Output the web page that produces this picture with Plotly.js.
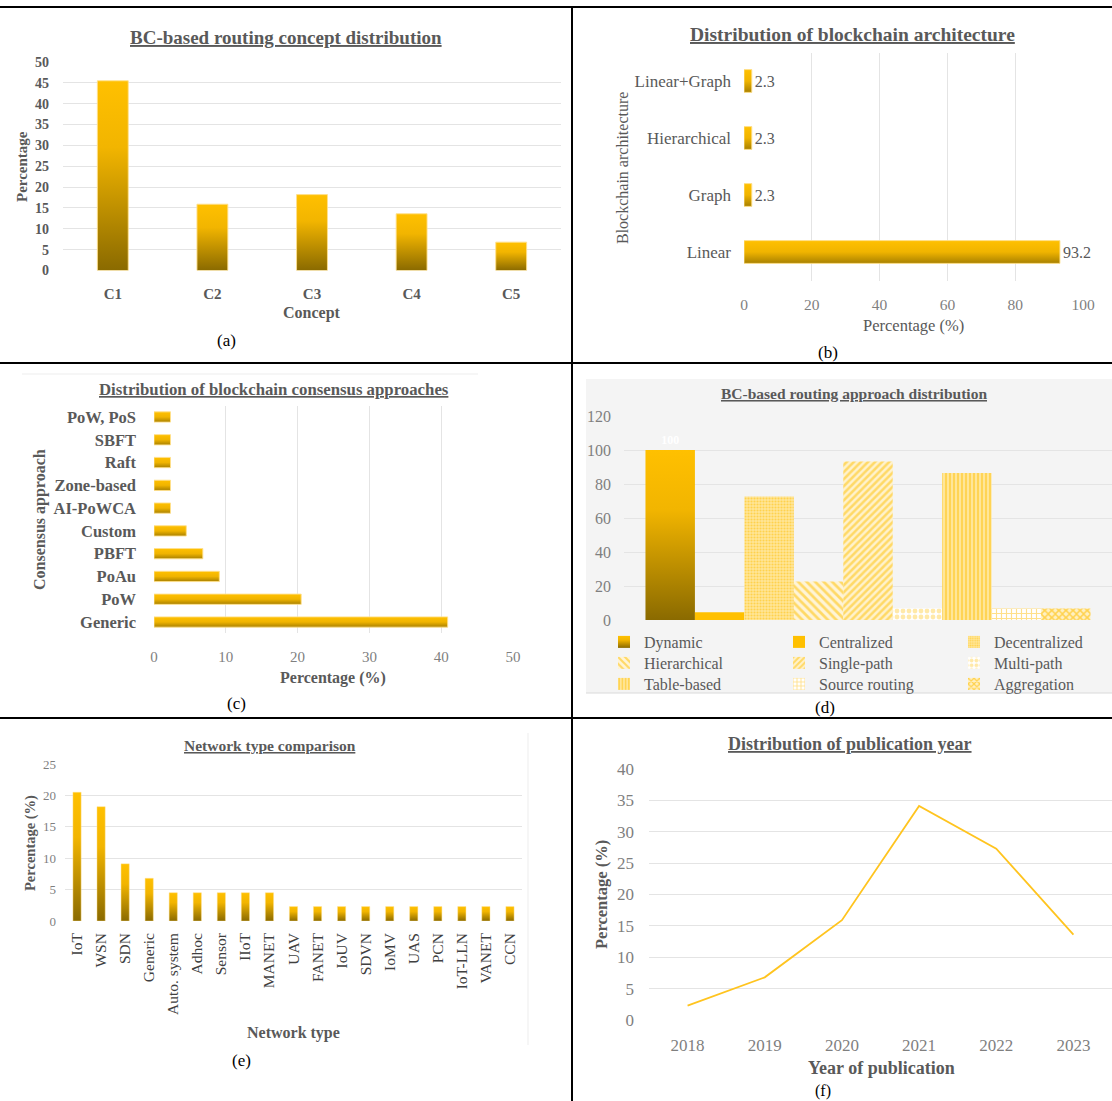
<!DOCTYPE html>
<html>
<head>
<meta charset="utf-8">
<script src="https://cdn.plot.ly/plotly-3.0.1.min.js"></script>
<style>html,body{margin:0;padding:0;background:#fff;overflow:hidden;}#chart{width:1112px;height:1101px;}</style>
</head>
<body>
<div id="chart"></div>
<script>
// ---------- DATA ----------
const conceptCats = ['C1', 'C2', 'C3', 'C4', 'C5'];
const conceptPct = [45.5, 15.9, 18.2, 13.6, 6.8];

const archCats = ['Linear', 'Graph', 'Hierarchical', 'Linear+Graph'];
const archPct = [93.2, 2.3, 2.3, 2.3];

const consCats = ['Generic', 'PoW', 'PoAu', 'PBFT', 'Custom', 'AI-PoWCA', 'Zone-based', 'Raft', 'SBFT', 'PoW, PoS'];
const consPct = [40.9, 20.5, 9.1, 6.8, 4.5, 2.3, 2.3, 2.3, 2.3, 2.3];

const approachNames = ['Dynamic', 'Centralized', 'Decentralized', 'Hierarchical', 'Single-path', 'Multi-path', 'Table-based', 'Source routing', 'Aggregation'];
const approachPct = [100, 4.5, 72.7, 22.7, 93.2, 6.8, 86.4, 6.8, 6.8];

const netCats = ['IoT', 'WSN', 'SDN', 'Generic', 'Auto. system', 'Adhoc', 'Sensor', 'IIoT', 'MANET', 'UAV', 'FANET', 'IoUV', 'SDVN', 'IoMV', 'UAS', 'PCN', 'IoT-LLN', 'VANET', 'CCN'];
const netPct = [20.5, 18.2, 9.1, 6.8, 4.5, 4.5, 4.5, 4.5, 4.5, 2.3, 2.3, 2.3, 2.3, 2.3, 2.3, 2.3, 2.3, 2.3, 2.3];

const years = ['2018', '2019', '2020', '2021', '2022', '2023'];
const yearPct = [2.3, 6.8, 15.9, 34.1, 27.3, 13.6];

// ---------- HELPERS ----------
const W = 1112, H = 1101;
const X = px => px / W;
const Y = py => 1 - py / H;
const FAM = 'Liberation Serif, Times New Roman, serif';
const GREY = '#595959';
const GRID = '#E4E4E4';
const GRAD_V = 'rgb(255,192,1)';   // replaced by vertical dark gradient
const GRAD_H = 'rgb(255,192,2)';   // replaced by lighter gradient
const f = (size, weight, color) => ({family: FAM, size: size, weight: weight || 'normal', color: color || GREY});

// ---------- TRACES ----------
const data = [];
data.push({type: 'bar', x: conceptCats, y: conceptPct, xaxis: 'x', yaxis: 'y', width: 0.31,
  marker: {color: GRAD_V, line: {color: 'rgba(255,224,140,0.9)', width: 1}}, showlegend: false, hoverinfo: 'none'});

data.push({type: 'bar', orientation: 'h', y: archCats, x: archPct, xaxis: 'x2', yaxis: 'y2', width: 0.4,
  marker: {color: GRAD_H, line: {color: 'rgba(255,224,140,0.9)', width: 1}}, showlegend: false, hoverinfo: 'none',
  texttemplate: '%{x:.1f}', textposition: 'outside', textfont: f(16, 'normal', GREY), cliponaxis: false});

data.push({type: 'bar', orientation: 'h', y: consCats, x: consPct, xaxis: 'x3', yaxis: 'y3', width: 0.45,
  marker: {color: GRAD_H, line: {color: 'rgba(255,224,140,0.9)', width: 1}}, showlegend: false, hoverinfo: 'none'});

const approachStyles = [
  {color: GRAD_V},
  {color: '#FFC000'},
  {color: '#FFE080', pattern: {shape: '.', fgcolor: '#FFD24D', bgcolor: '#FFE699', size: 3, solidity: 0.4}},
  {color: '#FFE699', pattern: {shape: '\\', fgcolor: '#FFD966', bgcolor: '#FFF4D6', size: 6, solidity: 0.45}},
  {color: '#FFE699', pattern: {shape: '/', fgcolor: '#FFD966', bgcolor: '#FFF2CC', size: 5, solidity: 0.5}},
  {color: '#FFF2CC', pattern: {shape: '.', fgcolor: '#FFE9A8', bgcolor: '#FFFFFF', size: 6, solidity: 0.5}},
  {color: '#FFDF80', pattern: {shape: '|', fgcolor: '#FFD24D', bgcolor: '#FFE699', size: 4, solidity: 0.45}},
  {color: '#FFF2CC', pattern: {shape: '+', fgcolor: '#FFE08A', bgcolor: '#FFFFFF', size: 5, solidity: 0.4}},
  {color: '#FFE699', pattern: {shape: 'x', fgcolor: '#FFD24D', bgcolor: '#FFF0C2', size: 5, solidity: 0.5}}
];
const legendOf = ['legend', 'legend', 'legend', 'legend2', 'legend2', 'legend2', 'legend3', 'legend3', 'legend3'];
approachNames.forEach(function (name, i) {
  const st = approachStyles[i];
  const tr = {type: 'bar', name: name, x: [''], y: [approachPct[i]], xaxis: 'x4', yaxis: 'y4',
    marker: {color: st.color}, legend: legendOf[i], hoverinfo: 'none'};
  if (i % 3 === 2) tr.legendwidth = 90;
  if (st.pattern) tr.marker.pattern = Object.assign({fillmode: 'replace'}, st.pattern);
  if (i === 0) {
    tr.texttemplate = '%{y}';
    tr.textposition = 'outside';
    tr.textfont = f(12, 'bold', '#FFFFFF');
    tr.cliponaxis = false;
  }
  data.push(tr);
});

data.push({type: 'bar', x: netCats, y: netPct, xaxis: 'x5', yaxis: 'y5', width: 0.34,
  marker: {color: GRAD_V, line: {color: 'rgba(255,224,140,0.9)', width: 0.5}}, showlegend: false, hoverinfo: 'none'});

data.push({type: 'scatter', mode: 'lines', x: years, y: yearPct, xaxis: 'x6', yaxis: 'y6',
  line: {color: '#FFC41F', width: 1.8}, showlegend: false, hoverinfo: 'none'});

// ---------- LAYOUT ----------
const baseAx = {showline: false, zeroline: false, ticks: '', fixedrange: true, gridcolor: GRID, gridwidth: 1, automargin: false};
const ax = o => Object.assign({}, baseAx, o);

function ann(text, px, py, size, weight, color, angle) {
  return {text: text, x: X(px), y: Y(py), xref: 'paper', yref: 'paper', xanchor: 'center', yanchor: 'middle',
    showarrow: false, font: f(size, weight, color), textangle: angle || 0};
}
function title(text, px, py, size) {
  return ann('<u>' + text + '</u>', px, py, size, 'bold', GREY);
}

const annotations = [
  title('BC-based routing concept distribution', 286, 38, 19),
  title('Distribution of blockchain architecture', 852, 34, 19.5),
  title('Distribution of blockchain consensus approaches', 274, 389, 16.8),
  title('BC-based routing approach distribution', 854, 394, 15.5),
  title('Network type comparison', 270, 745, 15.5),
  title('Distribution of publication year', 850, 744, 18),

  ann('Concept', 312, 313, 16, 'bold'),
  ann('Percentage', 22, 167, 15, 'bold', GREY, -90),
  ann('Percentage (%)', 913, 325, 16.5, 'normal'),
  ann('Blockchain architecture', 622, 168, 16, 'normal', GREY, -90),
  ann('Percentage (%)', 333, 678, 16, 'bold'),
  ann('Consensus approach', 40, 520, 16, 'bold', GREY, -90),
  ann('Network type', 293, 1033, 16, 'bold'),
  ann('Percentage (%)', 30, 843, 14.5, 'bold', GREY, -90),
  ann('Year of publication', 881, 1068, 18, 'bold'),
  ann('Percentage (%)', 601, 895, 16.5, 'bold', GREY, -90),

  ann('(a)', 226, 340, 17, 'normal', '#000000'),
  ann('(b)', 828, 352, 17, 'normal', '#000000'),
  ann('(c)', 236, 703, 17, 'normal', '#000000'),
  ann('(d)', 825, 708, 17, 'normal', '#000000'),
  ann('(e)', 241, 1060, 17, 'normal', '#000000'),
  ann('(f)', 823, 1091, 16, 'normal', '#000000')
];

function line(x0, y0, x1, y1, color, w) {
  return {type: 'line', xref: 'paper', yref: 'paper', x0: X(x0), y0: Y(y0), x1: X(x1), y1: Y(y1),
    line: {color: color, width: w}, layer: 'above'};
}
const shapes = [
  {type: 'rect', xref: 'paper', yref: 'paper', x0: X(586), x1: X(1112), y0: Y(693), y1: Y(379),
    fillcolor: '#F4F4F4', line: {width: 0}, layer: 'below'},
  line(22, 374, 478, 374, '#EDEDED', 1),
  line(528, 733, 528, 1045, '#EDEDED', 1),
  line(586, 693, 1112, 693, '#DADADA', 1),
  line(0, 7, 1112, 7, '#000000', 2),
  line(0, 363, 1112, 363, '#000000', 2),
  line(0, 718, 1112, 718, '#000000', 2),
  line(572, 7, 572, 1101, '#000000', 2)
];

const legendBase = {orientation: 'h', xanchor: 'left', yanchor: 'middle', bgcolor: 'rgba(0,0,0,0)',
  font: f(16, 'normal'), entrywidth: 130, entrywidthmode: 'pixels', itemwidth: 30, traceorder: 'normal'};

const layout = {
  width: W, height: H,
  margin: {l: 0, r: 0, t: 0, b: 0, pad: 0},
  paper_bgcolor: '#FFFFFF', plot_bgcolor: 'rgba(0,0,0,0)',
  font: {family: FAM, color: GREY},
  barmode: 'group', bargap: 0.088, bargroupgap: 0,
  showlegend: true,
  xaxis: ax({domain: [X(63), X(561)], anchor: 'y', type: 'category', showgrid: false,
    tickfont: f(15, 'bold'), ticklabelstandoff: 12}),
  yaxis: ax({domain: [Y(270.5), Y(62)], anchor: 'x', range: [0, 50], dtick: 5,
    tickfont: f(14, 'bold'), ticklabelstandoff: 13}),

  xaxis2: ax({domain: [X(744), X(1083)], anchor: 'y2', range: [0, 100], dtick: 20,
    tickfont: f(15.5, 'normal', '#7F7F7F'), ticklabelstandoff: 13}),
  yaxis2: ax({domain: [Y(280.5), Y(52.5)], anchor: 'x2', type: 'category', showgrid: false,
    categoryorder: 'array', categoryarray: archCats, tickfont: f(17, 'normal'), ticklabelstandoff: 12}),

  xaxis3: ax({domain: [X(154), X(513)], anchor: 'y3', range: [0, 50], dtick: 10,
    tickfont: f(15, 'normal', '#7F7F7F'), ticklabelstandoff: 13}),
  yaxis3: ax({domain: [Y(633.4), Y(405.6)], anchor: 'x3', type: 'category', showgrid: false,
    categoryorder: 'array', categoryarray: consCats, tickfont: f(16.5, 'bold'), ticklabelstandoff: 17}),

  xaxis4: ax({domain: [X(624), X(1112)], anchor: 'y4', type: 'category', showgrid: false, showticklabels: false}),
  yaxis4: ax({domain: [Y(620), Y(416)], anchor: 'x4', range: [0, 120], dtick: 20,
    tickfont: f(16, 'normal', '#7F7F7F'), ticklabelstandoff: 12}),

  xaxis5: ax({domain: [X(65), X(522)], anchor: 'y5', type: 'category', showgrid: false, tickangle: -90,
    tickfont: f(15.5, 'normal', '#404040'), ticklabelstandoff: 8}),
  yaxis5: ax({domain: [Y(921), Y(764)], anchor: 'x5', range: [0, 25], dtick: 5,
    tickfont: f(13, 'normal', '#7F7F7F'), ticklabelstandoff: 8}),

  xaxis6: ax({domain: [X(649), X(1112)], anchor: 'y6', type: 'category', showgrid: false,
    range: [-0.5, years.length - 0.5],
    tickfont: f(17, 'normal', '#7F7F7F'), ticklabelstandoff: 13}),
  yaxis6: ax({domain: [Y(1020), Y(769)], anchor: 'x6', range: [0, 40], dtick: 5,
    tickfont: f(17, 'normal', '#7F7F7F'), ticklabelstandoff: 14}),

  legend: Object.assign({}, legendBase, {x: X(604), y: Y(642)}),
  legend2: Object.assign({}, legendBase, {x: X(604), y: Y(663)}),
  legend3: Object.assign({}, legendBase, {x: X(604), y: Y(684)}),

  annotations: annotations,
  shapes: shapes
};

const gd = document.getElementById('chart');
Plotly.newPlot(gd, data, layout, {staticPlot: true, displayModeBar: false}).then(function () {
  const svgNS = 'http://www.w3.org/2000/svg';
  const svg = gd.querySelector('svg.main-svg');
  let defs = svg.querySelector('defs');
  if (!defs) { defs = document.createElementNS(svgNS, 'defs'); svg.insertBefore(defs, svg.firstChild); }
  function addGrad(id, stops) {
    const g = document.createElementNS(svgNS, 'linearGradient');
    g.setAttribute('id', id);
    g.setAttribute('x1', '0'); g.setAttribute('y1', '0'); g.setAttribute('x2', '0'); g.setAttribute('y2', '1');
    stops.forEach(function (s) {
      const st = document.createElementNS(svgNS, 'stop');
      st.setAttribute('offset', s[0]);
      st.setAttribute('stop-color', s[1]);
      g.appendChild(st);
    });
    defs.appendChild(g);
  }
  addGrad('gradV', [['0', '#FFC000'], ['0.35', '#F2B500'], ['1', '#8A6A00']]);
  addGrad('gradH', [['0', '#FFC000'], ['0.5', '#F0B400'], ['1', '#A88000']]);
  gd.querySelectorAll('path').forEach(function (p) {
    const fl = p.style.fill;
    if (fl === 'rgb(255, 192, 1)') p.style.fill = 'url(#gradV)';
    else if (fl === 'rgb(255, 192, 2)') p.style.fill = 'url(#gradH)';
  });
});
</script>
</body>
</html>
